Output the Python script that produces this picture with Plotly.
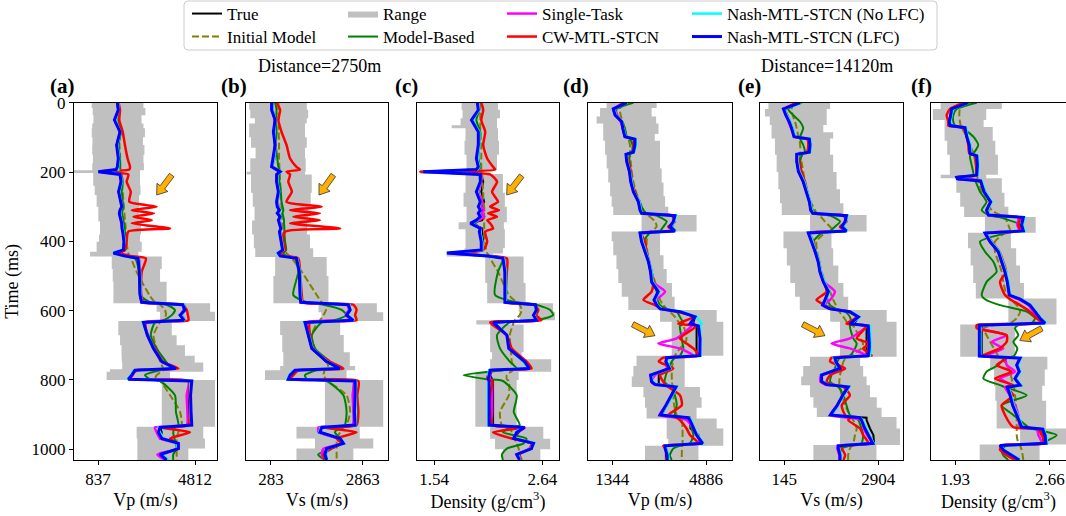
import plotly.graph_objects as go

W, H = 1066, 516
FONT = "Liberation Serif"

# ---------------- Well 1 (Distance = 2750 m): time grid (ms) ----------------
tA = [0,21,50,84,122,161,185,193,199,207,228,257,286,300,310,319,329,339,348,363,372,401,425,434,442,449,488,555,576,583,598,613,628,634,671,709,747,767,772,786,798,803,844,892,930,937,951,969,983,998,1015,1031]

# (a) Vp (m/s)
trueA = [1630,1660,1530,1740,1600,1680,1630,1630,850,1770,1810,1680,1770,1810,1740,1710,1740,1780,1810,1820,1850,1900,1880,1490,1900,2500,2530,2560,2600,4330,4360,4230,4360,2700,2860,3110,3450,3990,2350,2220,2080,4610,4540,4570,4570,3380,3450,3380,4130,4130,3380,3650]
lfcA = [1630,1670,1510,1740,1600,1670,1630,1580,850,1740,1780,1680,1770,1810,1740,1710,1740,1780,1810,1820,1850,1900,1880,1470,1900,2480,2530,2560,2630,4310,4400,4200,4360,2700,2860,3110,3450,4030,2350,2220,2080,4680,4630,4650,4680,3380,3310,3450,4130,4130,3380,3650]
nolfcA = [1660,1680,1550,1750,1630,1700,1660,1670,860,1750,1810,1710,1780,1820,1750,1740,1770,1810,1820,1850,1880,1930,1850,1440,1880,2500,2560,2590,2650,4360,4380,4250,4390,2670,2870,3130,3460,3990,2310,2190,2050,4630,4610,4630,4660,3320,3380,3490,4060,4090,3450,3720]
singleA = [1640,1670,1530,1720,1620,1680,1640,1600,890,1770,1790,1700,1790,1820,1750,1740,1750,1810,1830,1830,1860,1930,1880,1530,1940,2500,2550,2570,2640,4360,4330,4270,4390,2720,2890,3130,3450,3990,2390,2260,2150,4540,4470,4500,4470,3170,3240,3380,4060,4090,3270,3580]
cwA = [1680,1740,1710,1850,1940,2050,2150,2120,920,2080,2010,2180,2120,3240,2220,3130,2290,3040,2220,3790,2080,2010,1940,1740,2150,2800,2630,2610,2760,4270,4470,4520,4540,2800,2860,3170,3510,4130,2450,2220,2150,4540,4580,4610,4540,3380,4610,3790,4060,4130,3450,3650]
mbA = [1680,1710,1670,1780,1680,1740,1740,1710,990,1780,1850,1810,1850,1880,1850,1820,1850,1880,1900,1930,1940,1980,1960,1670,2010,2350,2520,2560,2970,3650,3990,3860,3510,3170,3000,3240,3620,3790,3380,2760,2970,3380,3990,4030,4130,3990,3920,3970,4030,4060,3920,3920]
initA = [1680,1680,1700,1710,1720,1740,1750,1770,1780,1790,1820,1850,1880,1890,1900,1920,1930,1940,1960,1970,1980,2010,2050,2080,2110,2180,2420,2940,3170,3380,3580,3620,3510,3380,3110,3240,3380,3510,3510,3240,3170,3380,3790,4200,4270,4200,4130,4060,4060,4060,4060,4060]
rtA = [0,15,36,60,74,100,122,150,175,195,203,240,266,300,343,380,401,430,444,480,517,579,603,630,671,700,730,750,769,776,800,935,969,998,1031]
loA = [580,620,650,600,580,610,600,630,600,-170,640,700,780,850,920,880,780,510,1400,1440,1470,3240,3380,1670,1740,1800,1810,1830,1330,1190,3450,2420,2450,2450,2450]
hiA = [2700,2780,2620,2700,2760,2680,2740,2700,2720,2560,2560,2580,2520,2500,2600,2560,2630,2490,3450,3380,3650,5430,5630,3860,4060,4400,4800,5150,5150,3790,5630,5150,5220,4540,4540]

# (b) Vs (m/s)
trueB = [330,310,390,360,390,360,330,460,540,460,440,500,460,480,500,480,520,500,540,560,540,570,610,540,560,1020,1080,1100,1120,2460,2510,2410,2580,1270,1330,1430,1830,2210,990,840,780,2620,2600,2620,2620,1710,1660,2230,2300,1850,1830,1850]
lfcB = [300,300,400,350,400,350,300,440,540,440,440,490,440,460,520,460,540,490,520,560,520,580,610,490,540,1000,1080,1100,1120,2460,2510,2410,2600,1240,1330,1430,1850,2230,960,820,770,2650,2650,2630,2650,1710,1660,2230,2320,1850,1800,1850]
nolfcB = [320,320,410,370,410,370,320,460,560,460,460,510,460,480,540,480,560,510,540,570,540,600,630,470,560,1020,1100,1120,1140,2490,2490,2430,2620,1220,1350,1450,1870,2240,930,800,750,2670,2670,2650,2670,1680,1640,2240,2340,1870,1830,1870]
singleB = [310,330,390,370,410,380,320,460,550,470,460,510,470,500,530,490,550,520,550,570,550,590,610,520,560,1020,1080,1120,1140,2430,2470,2390,2580,1290,1350,1460,1870,2210,1000,820,800,2600,2580,2600,2580,1620,1620,2180,2270,1760,1710,1800]
cwB = [440,540,490,580,720,820,1000,1100,720,820,770,870,720,1710,820,1660,910,1660,820,2230,680,630,680,540,630,1050,1100,1150,1190,2600,2690,2650,2690,1380,1380,1470,1940,2320,1050,910,820,2740,2710,2740,2690,1760,2690,2130,2270,1990,1760,1800]
mbB = [400,440,420,440,420,460,490,520,540,520,520,560,580,610,630,610,630,650,650,660,660,680,710,630,720,960,1050,910,1290,1760,2270,2410,2040,1710,1430,1520,1940,2080,1570,1240,1290,1850,2320,2410,2360,2230,2080,2230,2270,1990,1610,1800]
initB = [490,490,500,500,510,510,520,520,520,530,540,560,570,580,580,590,590,600,600,610,620,630,680,720,800,870,1150,1570,1710,1800,1830,1760,1660,1590,1430,1520,1850,1900,1800,1760,1830,1870,2410,2510,2410,2320,2230,2130,2130,2130,2130,2130]
rtB = [0,20,45,60,100,130,160,199,207,260,300,340,380,420,445,500,579,605,630,670,720,760,772,800,935,969,998,1031]
loB = [-330,-300,-170,-330,-280,-150,-300,-400,-280,-230,-180,-250,-200,-160,400,350,1620,1700,540,600,630,540,114,1800,1000,1520,1000,1000]
hiB = [1290,1330,1290,1240,1290,1240,1260,1240,1430,1400,1330,1300,1380,1470,1850,1900,3260,3440,2230,2330,2500,2650,2410,3440,2780,3160,2600,2600]

# (c) Density (g/cm3)
trueC = [1.99,2.00,1.93,2.00,1.99,1.98,2.00,1.99,1.43,2.02,2.04,2.02,2.05,2.03,2.04,2.02,2.05,2.03,1.92,2.03,2.03,2.04,2.03,1.68,2.06,2.25,2.26,2.26,2.27,2.56,2.58,2.56,2.58,2.15,2.28,2.31,2.45,2.51,2.13,2.11,2.13,2.14,2.14,2.14,2.14,2.45,2.40,2.35,2.54,2.53,2.39,2.41]
lfcC = [1.98,1.99,1.92,1.99,1.99,1.97,1.99,1.97,1.43,2.01,2.01,1.97,2.01,1.99,2.01,1.99,2.01,1.97,1.91,2.01,2.00,2.02,2.02,1.67,2.08,2.24,2.26,2.26,2.26,2.57,2.58,2.55,2.58,2.14,2.28,2.30,2.46,2.51,2.11,2.10,2.09,2.10,2.10,2.10,2.10,2.46,2.38,2.35,2.55,2.53,2.38,2.41]
nolfcC = [1.99,2.00,1.93,2.00,2.00,1.98,2.00,1.98,1.43,2.00,2.01,1.98,2.01,2.00,2.01,2.00,2.01,1.98,1.92,2.01,2.01,2.03,2.03,1.68,2.08,2.25,2.27,2.27,2.27,2.56,2.58,2.56,2.58,2.15,2.28,2.30,2.45,2.50,2.10,2.09,2.09,2.09,2.09,2.09,2.09,2.45,2.37,2.36,2.56,2.52,2.39,2.42]
singleC = [1.99,1.99,1.93,1.99,1.99,1.98,1.99,1.98,1.44,2.01,2.02,1.99,2.03,2.02,2.05,2.02,2.05,2.00,1.92,2.02,2.01,2.03,2.03,1.69,2.08,2.25,2.26,2.27,2.27,2.56,2.58,2.56,2.59,2.15,2.28,2.30,2.46,2.50,2.12,2.11,2.11,2.13,2.13,2.13,2.13,2.46,2.39,2.35,2.54,2.52,2.38,2.42]
cwC = [2.02,2.04,2.02,2.06,2.04,2.08,2.14,2.16,1.40,2.11,2.18,2.13,2.19,2.11,2.20,2.09,2.18,2.08,2.11,2.14,2.06,2.08,2.04,1.72,2.09,2.28,2.28,2.27,2.28,2.55,2.60,2.58,2.63,2.11,2.28,2.33,2.48,2.53,2.13,2.09,2.08,2.13,2.11,2.11,2.13,2.45,2.14,2.33,2.53,2.51,2.41,2.43]
mbC = [1.99,2.00,1.97,2.01,2.00,1.99,2.01,1.99,1.50,1.99,2.01,1.99,2.01,2.01,2.01,2.00,2.01,1.99,1.96,2.01,2.01,2.03,2.04,1.80,2.11,2.24,2.19,2.16,2.38,2.58,2.72,2.75,2.58,2.31,2.18,2.21,2.31,2.38,2.24,1.84,2.08,2.24,2.38,2.35,2.41,2.31,2.24,2.48,2.45,2.28,2.23,2.24]
initC = [2.01,2.01,2.01,2.01,2.02,2.02,2.02,2.02,2.02,2.03,2.03,2.04,2.04,2.05,2.05,2.05,2.05,2.05,2.05,2.05,2.05,2.06,2.07,2.08,2.10,2.11,2.19,2.30,2.38,2.41,2.43,2.41,2.36,2.35,2.31,2.32,2.33,2.35,2.34,2.28,2.28,2.30,2.30,2.21,2.23,2.31,2.33,2.36,2.38,2.40,2.41,2.41]
rtC = [0,20,45,65,74,110,150,194,206,260,300,345,365,420,435,444,520,579,603,628,640,720,740,776,800,935,970,1000,1031]
loC = [1.82,1.83,1.81,1.72,1.86,1.85,1.87,1.40,1.86,1.84,1.87,1.79,1.86,1.85,1.67,2.06,2.08,2.40,2.41,1.97,2.11,2.13,2.11,1.96,1.96,2.11,2.16,2.24,2.24]
hiC = [2.19,2.21,2.18,2.18,2.19,2.20,2.18,1.99,2.24,2.26,2.28,2.25,2.26,2.24,2.14,2.45,2.47,2.75,2.77,2.26,2.45,2.43,2.73,2.40,2.38,2.65,2.72,2.62,2.62]

# ---------------- Well 2 (Distance = 14120 m) ----------------
tD = [0,18,36,55,74,98,105,122,143,149,170,199,228,257,286,310,319,326,343,358,370,376,401,430,459,488,517,545,569,584,595,603,618,638,644,680,695,709,730,736,747,767,786,805,813,820,844,873,901,909,916,940,959,983,990,998,1017,1031]

# (d) Vp (m/s)
trueD = [1890,1380,1450,1700,1740,1820,2200,2200,2140,1860,1890,1990,2040,2140,2330,2390,2450,3710,3650,3600,3710,2390,2450,2580,2710,2790,2830,3080,2920,3020,3150,3900,4470,4400,4530,4530,4530,4530,4530,3400,3370,3420,3100,3100,3100,3710,3590,3400,3200,4280,4280,4300,4600,4660,3340,3370,3370,3370]
lfcD = [1890,1380,1450,1700,1740,1820,2200,2200,2140,1860,1890,1990,2040,2140,2330,2390,2450,3710,3650,3520,3710,2390,2450,2580,2710,2790,2830,3080,2920,3020,3150,3900,4470,4280,4600,4660,4660,4660,4650,3400,3370,3500,2790,2830,2960,3750,3590,3370,3150,4220,4280,4410,4530,4760,3340,3340,3420,3420]
nolfcD = [1910,1410,1480,1720,1760,1850,2230,2240,2160,1890,1910,2010,2080,2160,2370,2420,2480,3750,3690,3550,3750,2430,2490,2620,2740,2830,2870,3120,2960,3050,3210,3970,4530,4720,4660,4680,4680,4680,4680,3440,3410,3540,2830,2870,3000,3790,3630,3410,3180,4260,4320,4440,4570,4780,3370,3370,3460,3460]
singleD = [1760,1450,1530,1660,1740,1860,2160,2210,2140,1890,1910,2010,2080,2160,2370,2420,2470,3650,3680,3550,3690,2420,2490,2620,2730,2810,2870,3340,3020,3050,3210,3900,4430,4340,4340,3780,3080,3900,4410,3420,3370,3400,2960,2820,2960,3680,3590,3400,3130,3760,4150,4410,4530,4680,3370,3370,3420,3370]
cwD = [1820,1410,1480,1700,1760,1820,2140,2160,2110,1910,1950,2040,2080,2200,2330,2420,2490,3590,3710,3460,3650,2450,2580,2640,2740,2830,2890,2830,2520,2960,3270,3780,4410,3840,4530,3900,4150,4410,4600,3270,3100,3650,3150,3270,3340,3460,3900,3970,3460,3780,3900,4150,4280,4600,3270,3370,3420,3400]
mbD = [2140,1510,1530,1700,1820,1890,2010,2110,2080,2010,1990,2040,2080,2200,2370,2520,2640,3020,3400,3270,3150,2770,2520,2620,2710,2790,2890,3020,3050,3150,3400,3780,3900,4030,3900,3970,4000,4030,3900,3710,3590,3460,3370,3320,3420,3590,3710,3780,3710,4030,4220,4340,4410,4280,3900,3650,3520,3590]
initD = [1760,1630,1660,1740,1820,1890,1950,2010,2010,2010,2040,2080,2140,2240,2390,2520,2580,2710,2960,3020,2830,2710,2640,2670,2740,2830,2960,3080,3150,3270,3400,3520,3710,3900,4030,4150,4090,3900,3710,3680,3630,3600,3590,3600,3610,3630,3650,3680,3780,3900,3970,4000,4000,4000,3990,3980,3970,3970]
rtD = [0,15,40,60,90,110,150,190,230,270,300,324,372,400,440,480,520,560,598,632,730,760,790,820,850,880,911,940,970,990,1031]
loD = [1130,880,750,1000,1000,1070,1130,1190,1260,1320,1380,2450,1320,1380,1500,1570,1700,1950,3150,3590,2260,2140,2080,2520,2580,2640,3400,3400,3460,2580,2580]
hiD = [3020,2830,3000,3090,2950,3150,3150,3210,3280,3340,3460,4530,3150,3150,3280,3400,3600,3700,5290,5540,4080,4080,4080,4660,4720,4530,5290,5540,5540,4600,4600]

# (e) Vs (m/s)
trueE = [610,120,190,290,360,430,880,900,880,510,510,560,700,780,880,920,980,1970,1930,1880,1970,850,950,1050,1140,1190,1290,1440,1340,1270,1490,2070,2320,2200,2560,2560,2560,2560,2560,1630,1660,1780,1210,1210,1390,2020,1860,1700,1500,2560,2560,2660,2760,2780,1730,1730,1780,1780]
lfcE = [610,120,190,290,360,430,880,900,880,510,510,560,700,780,880,920,980,1970,1930,1830,1970,850,950,1050,1140,1190,1290,1440,1340,1270,1490,2070,2320,2070,2610,2640,2640,2640,2610,1630,1660,1780,1240,1240,1390,2020,1860,1700,1500,2370,2410,2510,2610,2740,1730,1730,1780,1780]
nolfcE = [630,150,220,320,390,460,910,930,910,540,540,590,730,810,910,950,1010,2000,1950,1860,2000,880,980,1070,1170,1220,1320,1470,1370,1300,1510,2100,2350,2120,2660,2680,2680,2680,2660,1600,1630,1760,1210,1270,1410,2050,1890,1730,1530,2390,2440,2540,2640,2770,1700,1760,1810,1810]
singleE = [560,150,210,270,350,450,860,900,870,530,530,590,720,800,900,940,990,1940,1930,1850,1950,880,970,1060,1150,1210,1310,1630,1490,1290,1490,2070,2290,2120,2560,2070,1530,2070,2560,1660,1630,1730,1210,1210,1340,1970,1860,1700,1490,2070,2410,2480,2580,2710,1700,1700,1760,1760]
cwE = [510,170,230,310,390,460,820,850,800,560,590,650,750,820,900,950,1000,1880,1970,1780,1930,900,1000,1070,1170,1210,1310,1390,1090,1340,1580,2020,2270,1970,2560,2270,2660,2460,2710,1530,1490,1930,1490,1390,1530,1880,2070,1830,1930,2070,2020,2370,2460,2610,1730,1830,1930,1880]
mbE = [650,260,410,610,700,610,610,700,750,680,610,650,700,800,900,980,1090,1490,1780,1630,1490,1240,1000,1070,1140,1210,1310,1390,1410,1490,1680,1930,2070,2120,2070,2170,2270,2220,2070,1780,1700,1630,1530,1490,1580,1730,1880,1970,2070,2220,2320,2410,2460,2410,2070,1830,1780,1780]
initE = [410,360,390,460,510,560,590,610,620,620,650,700,750,820,920,1050,1090,1190,1340,1490,1580,1340,1090,1110,1170,1240,1340,1490,1580,1660,1700,1760,1880,2020,2170,2370,2460,2410,2070,1970,1880,1830,1780,1760,1760,1780,1830,1930,2070,2120,2170,2270,2220,2170,2120,2070,2020,2020]
rtE = [0,18,40,64,85,103,150,200,250,290,324,372,420,470,520,560,598,632,733,760,790,815,850,880,907,940,988,1031]
loE = [-320,-420,-280,-230,-230,-130,-80,-30,20,70,900,120,220,320,460,600,1490,1780,900,700,640,900,1000,1100,1780,1780,1000,1000]
hiE = [1490,1390,1390,1290,1580,1490,1580,1680,1780,1880,2560,1530,1580,1730,1880,2020,3150,3440,2370,2460,2560,2660,2860,3000,3440,3540,2850,2850]

# (f) Density (g/cm3)
tF = [0,18,36,55,66,72,98,122,146,153,180,209,215,220,226,257,286,310,324,331,353,370,376,401,430,459,488,517,555,567,584,603,622,636,642,651,671,690,709,731,737,757,776,796,815,821,844,873,901,936,942,959,983,989,1002,1017,1031]
trueF = [2.045,1.904,1.897,1.886,1.892,2.007,2.020,2.040,2.045,2.097,2.102,2.097,1.943,1.948,2.127,2.153,2.204,2.173,2.186,2.455,2.442,2.455,2.161,2.199,2.263,2.289,2.314,2.332,2.348,2.430,2.506,2.545,2.583,2.622,2.135,2.135,2.135,2.135,2.135,2.135,2.430,2.404,2.424,2.391,2.430,2.332,2.353,2.373,2.404,2.442,2.609,2.609,2.609,2.276,2.301,2.365,2.424]
lfcF = [2.032,1.904,1.897,1.886,1.892,2.007,2.020,2.040,2.045,2.097,2.102,2.097,1.943,1.948,2.127,2.153,2.204,2.173,2.186,2.455,2.442,2.455,2.161,2.199,2.263,2.289,2.314,2.332,2.348,2.430,2.506,2.545,2.583,2.622,2.117,2.117,2.117,2.117,2.117,2.117,2.430,2.404,2.424,2.391,2.430,2.332,2.353,2.373,2.404,2.442,2.604,2.622,2.629,2.276,2.301,2.365,2.424]
nolfcF = [2.040,1.912,1.904,1.894,1.899,2.015,2.027,2.048,2.053,2.104,2.109,2.104,1.950,1.956,2.135,2.161,2.212,2.181,2.194,2.463,2.450,2.463,2.168,2.207,2.271,2.296,2.322,2.340,2.355,2.437,2.514,2.553,2.591,2.629,2.125,2.125,2.125,2.125,2.125,2.125,2.437,2.412,2.432,2.399,2.437,2.340,2.361,2.381,2.412,2.450,2.611,2.629,2.637,2.284,2.309,2.373,2.432]
singleF = [2.020,1.904,1.897,1.886,1.892,1.999,2.020,2.040,2.045,2.091,2.102,2.097,1.948,1.953,2.127,2.153,2.204,2.173,2.186,2.417,2.409,2.424,2.161,2.199,2.263,2.289,2.314,2.332,2.348,2.417,2.494,2.532,2.571,2.609,2.109,2.122,2.327,2.212,2.301,2.161,2.314,2.327,2.391,2.276,2.365,2.314,2.353,2.391,2.417,2.430,2.558,2.571,2.596,2.289,2.301,2.340,2.404]
cwF = [1.994,1.892,1.866,1.879,1.879,1.994,2.020,2.032,2.040,2.084,2.091,2.091,1.948,1.956,2.122,2.161,2.199,2.186,2.186,2.430,2.417,2.430,2.173,2.212,2.271,2.301,2.322,2.276,2.314,2.353,2.430,2.506,2.558,2.596,2.097,2.097,2.327,2.327,2.276,2.135,2.327,2.250,2.365,2.237,2.378,2.327,2.378,2.289,2.314,2.378,2.571,2.596,2.622,2.289,2.276,2.327,2.391]
mbF = [2.097,1.943,1.917,1.917,1.930,1.981,2.071,2.109,2.071,2.045,2.058,2.071,2.020,2.045,2.084,2.122,2.173,2.135,2.186,2.276,2.430,2.417,2.327,2.122,2.161,2.225,2.250,2.173,2.135,2.161,2.276,2.481,2.545,2.519,2.417,2.391,2.417,2.378,2.409,2.383,2.314,2.263,2.173,2.148,2.276,2.314,2.481,2.289,2.378,2.494,2.532,2.711,2.583,2.327,2.289,2.301,2.340]
initF = [2.020,1.968,1.963,1.968,1.974,1.981,2.020,2.045,2.071,2.076,2.091,2.102,2.102,2.104,2.109,2.135,2.173,2.212,2.276,2.314,2.340,2.353,2.314,2.237,2.237,2.263,2.289,2.301,2.327,2.353,2.404,2.430,2.404,2.353,2.225,2.148,2.173,2.199,2.230,2.263,2.289,2.327,2.353,2.365,2.378,2.383,2.391,2.399,2.404,2.404,2.404,2.404,2.417,2.430,2.442,2.450,2.455]
rtF = [0,18,50,70,110,150,208,218,260,300,330,375,420,470,520,565,640,733,770,817,860,940,986,1031]
loF = [1.82,1.76,1.85,1.85,1.87,1.89,1.82,1.94,1.97,2.00,2.16,2.03,2.05,2.07,2.09,2.34,1.97,2.20,2.23,2.24,2.25,2.43,2.12,2.12]
hiF = [2.29,2.17,2.15,2.22,2.24,2.26,2.17,2.29,2.31,2.34,2.55,2.36,2.40,2.43,2.46,2.71,2.39,2.64,2.62,2.60,2.63,2.79,2.58,2.58]

# tick labels / axis titles
tickA, tickB, tickC = [837, 4812], [283, 2863], [1.54, 2.64]
tickD, tickE, tickF = [1344, 4886], [145, 2904], [1.93, 2.66]
time_ticks = [0, 200, 400, 600, 800, 1000]

panels = [
    dict(t=tA, true=trueA, lfc=lfcA, nolfc=nolfcA, single=singleA, cw=cwA, mb=mbA, init=initA,
         rt=rtA, lo=loA, hi=hiA, ticks=tickA, title="Vp (m/s)", rng=[-146.5, 5713.5], px=(74, 217), label="(a)"),
    dict(t=tA, true=trueB, lfc=lfcB, nolfc=nolfcB, single=singleB, cw=cwB, mb=mbB, init=initB,
         rt=rtB, lo=loB, hi=hiB, ticks=tickB, title="Vs (m/s)", rng=[-420, 3575], px=(246, 388), label="(b)"),
    dict(t=tA, true=trueC, lfc=lfcC, nolfc=nolfcC, single=singleC, cw=cwC, mb=mbC, init=initC,
         rt=rtC, lo=loC, hi=hiC, ticks=tickC, title="Density (g/cm<sup>3</sup>)", rng=[1.3673, 2.8096], px=(417, 559), label="(c)"),
    dict(t=tD, true=trueD, lfc=lfcD, nolfc=nolfcD, single=singleD, cw=cwD, mb=mbD, init=initD,
         rt=rtD, lo=loD, hi=hiD, ticks=tickD, title="Vp (m/s)", rng=[425, 5869], px=(588, 732), label="(d)"),
    dict(t=tD, true=trueE, lfc=lfcE, nolfc=nolfcE, single=singleE, cw=cwE, mb=mbE, init=initE,
         rt=rtE, lo=loE, hi=hiE, ticks=tickE, title="Vs (m/s)", rng=[-568, 3629], px=(760, 903), label="(e)"),
    dict(t=tF, true=trueF, lfc=lfcF, nolfc=nolfcF, single=singleF, cw=cwF, mb=mbF, init=initF,
         rt=rtF, lo=loF, hi=hiF, ticks=tickF, title="Density (g/cm<sup>3</sup>)", rng=[1.7455, 2.7831], px=(931, 1066), label="(f)"),
]

# key, legend name, colour, width, dash, legend id, smooth?
series = [
    ("true", "True", "black", 2, "solid", "legend", False),
    ("init", "Initial Model", "#808000", 2, "7px,3px", "legend5", True),
    ("mb", "Model-Based", "#008000", 2, "solid", "legend6", True),
    ("single", "Single-Task", "#ff00ff", 2.5, "solid", "legend3", True),
    ("cw", "CW-MTL-STCN", "#ff0000", 2.5, "solid", "legend7", True),
    ("nolfc", "Nash-MTL-STCN (No LFC)", "#00ffff", 2.5, "solid", "legend4", False),
    ("lfc", "Nash-MTL-STCN (LFC)", "#0000ff", 3, "solid", "legend8", False),
]

Y0, Y1 = 1 - 460 / H, 1 - 102.7 / H

fig = go.Figure()
layout = {}
for i, p in enumerate(panels):
    sfx = "" if i == 0 else str(i + 1)
    xr, yr = "x" + sfx, "y" + sfx
    show = i == 0
    fig.add_trace(go.Scatter(x=p["lo"], y=p["rt"], xaxis=xr, yaxis=yr, mode="lines",
                             line=dict(width=0, shape="vh"), showlegend=False, hoverinfo="skip"))
    fig.add_trace(go.Scatter(x=p["hi"], y=p["rt"], xaxis=xr, yaxis=yr, mode="lines",
                             line=dict(width=0, shape="vh"), fill="tonextx", fillcolor="#c0c0c0",
                             name="Range", legend="legend2", showlegend=show, hoverinfo="skip"))
    for key, name, color, width, dash, leg, smooth in series:
        ln = dict(color=color, width=width, dash=dash)
        if smooth:
            ln.update(shape="spline", smoothing=0.6)
        fig.add_trace(go.Scatter(x=p[key], y=p["t"], xaxis=xr, yaxis=yr, mode="lines",
                                 line=ln, name=name, legend=leg, showlegend=show))
    layout["xaxis" + sfx] = dict(
        domain=[p["px"][0] / W, p["px"][1] / W], range=p["rng"], anchor=yr,
        tickvals=p["ticks"], ticktext=[str(v) for v in p["ticks"]],
        ticks="outside", ticklen=4, tickcolor="black", showline=True, mirror=True,
        linecolor="black", linewidth=1, showgrid=False, zeroline=False,
        tickfont=dict(family=FONT, size=17, color="black"),
        title=dict(text=p["title"], font=dict(family=FONT, size=18, color="black"), standoff=4),
        automargin=False)
    ya = dict(
        domain=[Y0, Y1], range=[1031, 0], anchor=xr, showline=True, mirror=(i != 5),
        linecolor="black", linewidth=1, showgrid=False, zeroline=False,
        tickvals=time_ticks, ticks="outside" if i == 0 else "", ticklen=4, tickcolor="black",
        showticklabels=(i == 0), tickfont=dict(family=FONT, size=17, color="black"),
        automargin=False)
    if i == 0:
        ya["title"] = dict(text="Time (ms)", font=dict(family=FONT, size=18, color="black"), standoff=8)
    layout["yaxis" + sfx] = ya

# one legend per entry: 4 columns x 2 rows
col_x = [187, 343, 502, 687]
row_c = [14, 37]
legend_ids = ["legend", "legend2", "legend3", "legend4", "legend5", "legend6", "legend7", "legend8"]
for k, lid in enumerate(legend_ids):
    c, r = k % 4, k // 4
    layout[lid] = dict(x=col_x[c] / W, y=1 - (row_c[r] - 18) / H, xanchor="left", yanchor="top",
                       bgcolor="rgba(0,0,0,0)", borderwidth=0, traceorder="normal",
                       font=dict(family=FONT, size=17, color="black"))


def px(x):
    return x / W


def py(y):
    return 1 - y / H


shapes = []
x0, x1, y0, y1, r = 184, 937, 1, 50, 4
frame = (f"M {px(x0 + r)} {py(y0)} L {px(x1 - r)} {py(y0)} Q {px(x1)} {py(y0)} {px(x1)} {py(y0 + r)} "
         f"L {px(x1)} {py(y1 - r)} Q {px(x1)} {py(y1)} {px(x1 - r)} {py(y1)} "
         f"L {px(x0 + r)} {py(y1)} Q {px(x0)} {py(y1)} {px(x0)} {py(y1 - r)} "
         f"L {px(x0)} {py(y0 + r)} Q {px(x0)} {py(y0)} {px(x0 + r)} {py(y0)} Z")
shapes.append(dict(type="path", xref="paper", yref="paper", path=frame,
                   line=dict(color="#cccccc", width=1), fillcolor="rgba(255,255,255,0)", layer="below"))


def fat_arrow(tail, head, w=2.8, hw=6.8, hl=9.5):
    (tx, ty), (hx, hy) = tail, head
    L = ((hx - tx) ** 2 + (hy - ty) ** 2) ** 0.5
    dx, dy = (hx - tx) / L, (hy - ty) / L
    nx, ny = -dy, dx
    nkx, nky = hx - dx * hl, hy - dy * hl
    pts = [(tx + nx * w, ty + ny * w), (nkx + nx * w, nky + ny * w), (nkx + nx * hw, nky + ny * hw),
           (hx, hy), (nkx - nx * hw, nky - ny * hw), (nkx - nx * w, nky - ny * w), (tx - nx * w, ty - ny * w)]
    d = "M " + " L ".join(f"{px(a)} {py(b)}" for a, b in pts) + " Z"
    return dict(type="path", xref="paper", yref="paper", path=d,
                fillcolor="#ffb000", line=dict(color="#333333", width=0.8), layer="above")


arrows = [((171.7, 175), (156.7, 195)), ((333.3, 175), (319, 195)), ((521.7, 175.7), (506.7, 195)),
          ((632.7, 324.3), (655, 335.7)), ((802.7, 324.3), (825, 335.7)), ((1041.7, 328.3), (1019.8, 340.5))]
for a in arrows:
    shapes.append(fat_arrow(*a))

annotations = []
for p in panels:
    annotations.append(dict(text="<b>" + p["label"] + "</b>", xref="paper", yref="paper",
                            x=(p["px"][0] + 3) / W, y=py(86), xanchor="right", yanchor="middle",
                            showarrow=False, font=dict(family=FONT, size=21, color="black")))
annotations.append(dict(text="Distance=2750m", xref="paper", yref="paper", x=319 / W, y=py(66),
                        xanchor="center", yanchor="middle", showarrow=False,
                        font=dict(family=FONT, size=18, color="black")))
annotations.append(dict(text="Distance=14120m", xref="paper", yref="paper", x=827 / W, y=py(66),
                        xanchor="center", yanchor="middle", showarrow=False,
                        font=dict(family=FONT, size=18, color="black")))

fig.update_layout(width=W, height=H, margin=dict(l=0, r=0, t=0, b=0, autoexpand=False),
                  paper_bgcolor="white", plot_bgcolor="white", shapes=shapes,
                  annotations=annotations, **layout)
fig.write_html("out.html")
